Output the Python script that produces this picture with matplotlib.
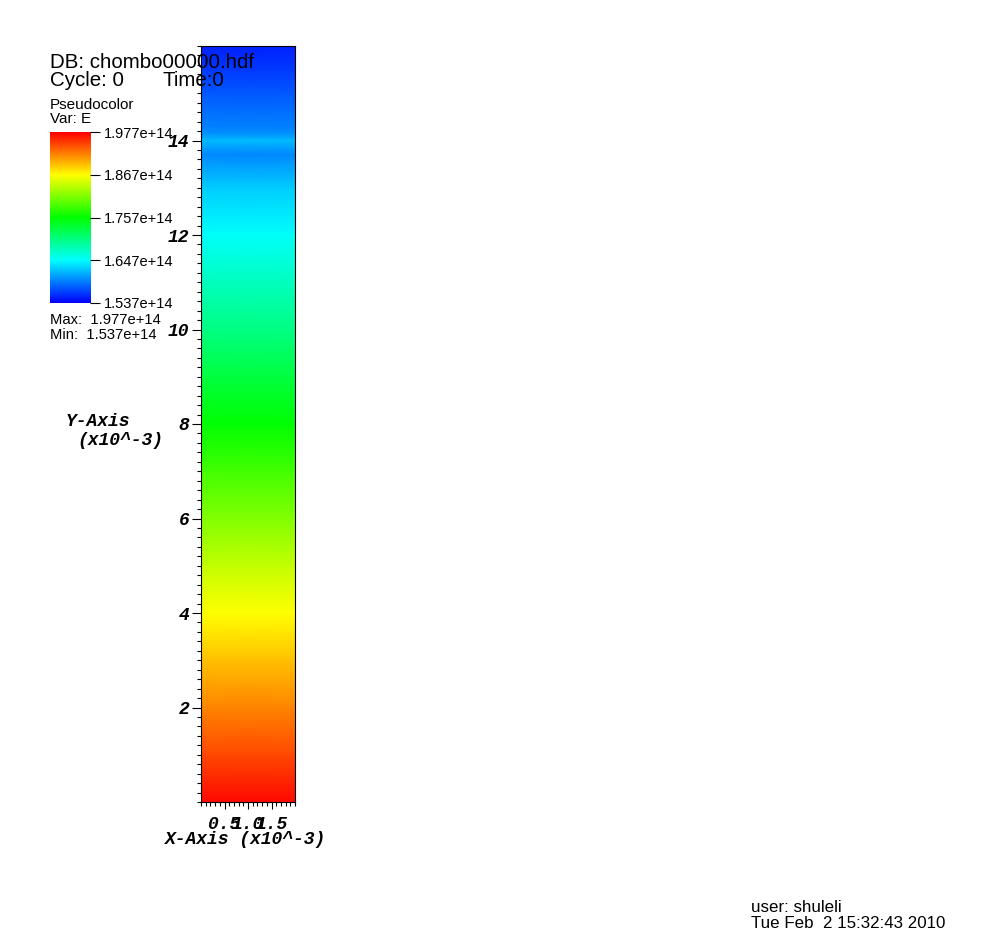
import numpy as np
import matplotlib
matplotlib.use('Agg')
import matplotlib.pyplot as plt
from matplotlib.colors import LinearSegmentedColormap
from matplotlib.ticker import MultipleLocator

# E profile along y (x10^-3), uniform in x
y_nodes = [0, 1, 2, 3, 4, 5, 6, 7, 8, 9, 10, 11, 12, 13, 13.7, 13.85, 14.0, 14.15, 14.3, 15, 15.5, 16]
E_vals = [1.972, 1.946, 1.920, 1.894, 1.867, 1.840, 1.812, 1.785, 1.757, 1.730, 1.702,
          1.675, 1.649, 1.625, 1.596, 1.606, 1.618, 1.600, 1.592, 1.575, 1.562, 1.552]
x_edges = [0, 2]

E_min, E_max = 1.537, 1.977
cbar_ticks = [1.977, 1.867, 1.757, 1.647, 1.537]

W, H = 1003, 944
fig = plt.figure(figsize=(W / 100, H / 100), dpi=100)

def px(x, y):
    return x / W, 1 - y / H

cmap = LinearSegmentedColormap.from_list(
    'visit_hot', ['#0000ff', '#00ffff', '#00ff00', '#ffff00', '#ff0000'])

ax = fig.add_axes([201 / W, 1 - 802 / H, 94 / W, 756 / H])
X, Y = np.meshgrid(x_edges, y_nodes)
C = np.column_stack([E_vals, E_vals])
ax.pcolormesh(X, Y, C, cmap=cmap, vmin=E_min, vmax=E_max, shading='gouraud')
ax.set_xlim(0, 2)
ax.set_ylim(0, 16)

tick_font = dict(family='Liberation Mono', weight='bold', style='italic', size=13)
ax.xaxis.set_minor_locator(MultipleLocator(0.1))
ax.yaxis.set_minor_locator(MultipleLocator(0.2))
ax.set_xticks([0.5, 1.0, 1.5])
ax.set_xticklabels(['0.5', '1.0', '1.5'], fontdict=tick_font)
ax.set_yticks([2, 4, 6, 8, 10, 12, 14])
ax.set_yticklabels(['2', '4', '6', '8', '10', '12', '14'], fontdict=tick_font)
ax.tick_params(axis='y', which='major', direction='out', length=6.5, width=0.8, pad=2)
ax.tick_params(axis='x', which='major', direction='out', length=5, width=0.8, pad=5)
ax.tick_params(which='minor', direction='out', length=3, width=0.8)
for s in ax.spines.values():
    s.set_linewidth(0.8)

fig.text(*px(246, 840), 'X-Axis (x10^-3)', ha='center', va='center', **tick_font)
fig.text(*px(98, 421), 'Y-Axis', ha='center', va='center', **tick_font)
fig.text(*px(120, 441), '(x10^-3)', ha='center', va='center', **tick_font)

# legend / info text
info = dict(family='Liberation Sans', color='black')
fig.text(*px(50, 62), 'DB: chombo00000.hdf', ha='left', va='center', size=14.8, **info)
fig.text(*px(50, 80), 'Cycle: 0', ha='left', va='center', size=14.8, **info)
fig.text(*px(163, 80), 'Time:0', ha='left', va='center', size=14.8, **info)
fig.text(*px(50, 105), 'Pseudocolor', ha='left', va='center', size=11, **info)
fig.text(*px(50, 119), 'Var: E', ha='left', va='center', size=11, **info)
fig.text(*px(50, 320), 'Max:  1.977e+14', ha='left', va='center', size=10.6, **info)
fig.text(*px(50, 335), 'Min:  1.537e+14', ha='left', va='center', size=10.6, **info)
fig.text(*px(751, 907), 'user: shuleli', ha='left', va='center', size=12.2, **info)
fig.text(*px(751, 924), 'Tue Feb  2 15:32:43 2010', ha='left', va='center', size=12.2, **info)

# colour bar
cax = fig.add_axes([50 / W, 1 - 303 / H, 40 / W, 171 / H])
grad = np.linspace(E_min, E_max, 256).reshape(-1, 1)
cax.imshow(grad, cmap=cmap, vmin=E_min, vmax=E_max, aspect='auto', origin='lower',
           extent=[0, 1, E_min, E_max])
cax.set_xticks([])
cax.yaxis.tick_right()
cax.set_yticks(cbar_ticks)
cax.set_yticklabels([f'{v:.3f}e+14' for v in cbar_ticks], family='Liberation Sans', size=10.5)
cax.tick_params(axis='y', direction='out', length=7, width=0.8, pad=3)
for s in cax.spines.values():
    s.set_visible(False)

fig.savefig('out.png', dpi=100)
